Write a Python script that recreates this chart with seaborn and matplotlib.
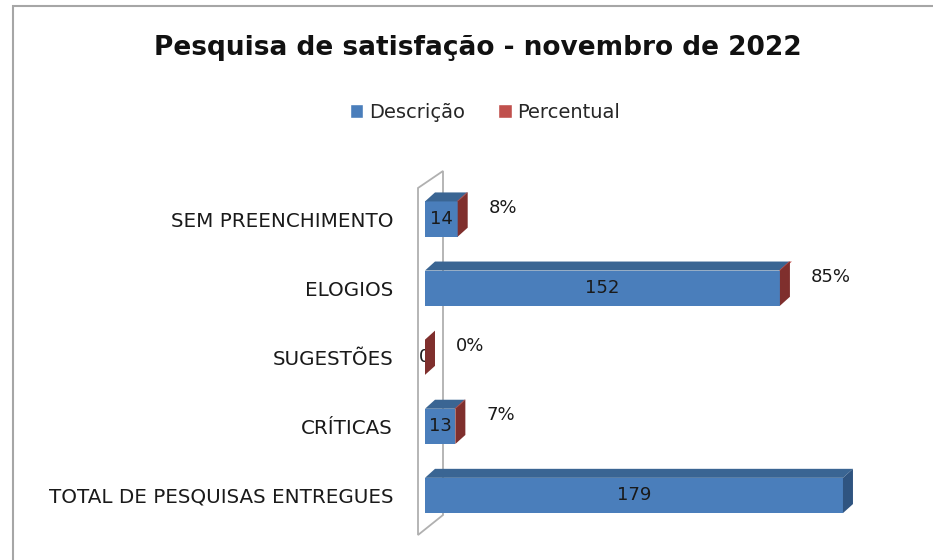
import numpy as np
import pandas as pd
import matplotlib
matplotlib.use("Agg")
import matplotlib.pyplot as plt
import seaborn as sns
from matplotlib.patches import Patch, Polygon, Rectangle

# dados
categorias = ["SEM PREENCHIMENTO", "ELOGIOS", "SUGESTÕES", "CRÍTICAS",
              "TOTAL DE PESQUISAS ENTREGUES"]
descricao = [14, 152, 0, 13, 179]
percentual = [0.08, 0.85, 0.0, 0.07, np.nan]

AZUL = "#4a7ebb"
AZUL_TOPO = "#3a6593"
AZUL_LADO = "#2f5480"
VERMELHO = "#c0504d"
VERMELHO_LADO = "#7f2f2d"

df = pd.DataFrame({"Categoria": categorias, "Descrição": descricao,
                   "Percentual": percentual})

sns.set_theme(style="white")
plt.rcParams["font.family"] = ["DejaVu Sans"]

W, H = 933, 560
fig = plt.figure(figsize=(W / 100, H / 100), dpi=100)
ax = fig.add_axes([425 / W, 1 - 530 / H, (892 - 425) / W, (530 - 184.5) / H])
ax.patch.set_alpha(0)

sns.barplot(data=df, y="Categoria", x="Descrição", color=AZUL, width=0.51,
            saturation=1, linewidth=0, ax=ax, zorder=3)
ax.set_xlim(0, 200)
ax.set_ylim(4.5, -0.5)
sns.despine(ax=ax, left=True, bottom=True)
ax.set_xticks([])
ax.set_xlabel("")
ax.set_ylabel("")
ax.tick_params(axis="y", length=0, pad=23, labelsize=14.3, labelcolor="#1a1a1a")

fig.canvas.draw()
tr = ax.transData.transform
DX, DY = 10, 9  # profundidade 3D em pixels

# parede lateral do gráfico 3D (atrás das barras)
x0p = tr((0, 0))[0]
fx, bx = x0p - 7, x0p + 18
wall = [(fx, H - 535), (fx, H - 188), (bx, H - 171), (bx, H - 515)]
fig.add_artist(Polygon(wall, closed=True, facecolor="none", edgecolor="#b0b0b0",
                       lw=1.3, transform=None, zorder=-1))

bar_w = 0.51
for i, (v, p) in enumerate(zip(descricao, percentual)):
    xl, yt = tr((0, i - bar_w / 2))
    xr, yb = tr((v, i + bar_w / 2))
    tem_pct = not np.isnan(p)
    # topo
    topo = [(xl, yt), (xr, yt), (xr + DX, yt + DY), (xl + DX, yt + DY)]
    fig.add_artist(Polygon(topo, closed=True, facecolor=AZUL_TOPO, edgecolor="none",
                           transform=None, zorder=4))
    if tem_pct and v > 0:
        xe = tr((v + p, 0))[0]
        topo_r = [(xr - 1, yt), (xe, yt), (xe + DX, yt + DY), (xr - 1 + DX, yt + DY)]
        fig.add_artist(Polygon(topo_r, closed=True, facecolor=VERMELHO, edgecolor="none",
                               transform=None, zorder=4))
    # lado direito
    lado = [(xr, yb), (xr, yt), (xr + DX, yt + DY), (xr + DX, yb + DY)]
    fig.add_artist(Polygon(lado, closed=True,
                           facecolor=VERMELHO_LADO if tem_pct else AZUL_LADO,
                           edgecolor="none", transform=None, zorder=5))
    # rótulo do valor
    ax.text(v / 2, i, f"{v}", ha="center", va="center", fontsize=13,
            color="#1a1a1a", zorder=6)
    if tem_pct:
        fig.text((xr + 31) / W, (yt + yb) / 2 / H + 11 / H, f"{p:.0%}",
                 ha="left", va="center", fontsize=13, color="#1a1a1a")

fig.text(478 / W, 1 - 48 / H, "Pesquisa de satisfação - novembro de 2022",
         ha="center", va="center", fontsize=19, fontweight="bold", color="#111111")

handles = [Patch(facecolor=AZUL, label="Descrição"),
           Patch(facecolor=VERMELHO, label="Percentual")]
fig.legend(handles=handles, loc="center", bbox_to_anchor=(485 / W, 1 - 112 / H),
           ncol=2, frameon=False, fontsize=14, handlelength=0.7, handleheight=0.7,
           handletextpad=0.3, columnspacing=1.7)

fig.add_artist(Rectangle((12.5 / W, -0.1), 1.2, 1 - 5.5 / H + 0.1,
                         transform=fig.transFigure, facecolor="none",
                         edgecolor="#a6a6a6", lw=1.5))

fig.savefig("out.png", dpi=100)
